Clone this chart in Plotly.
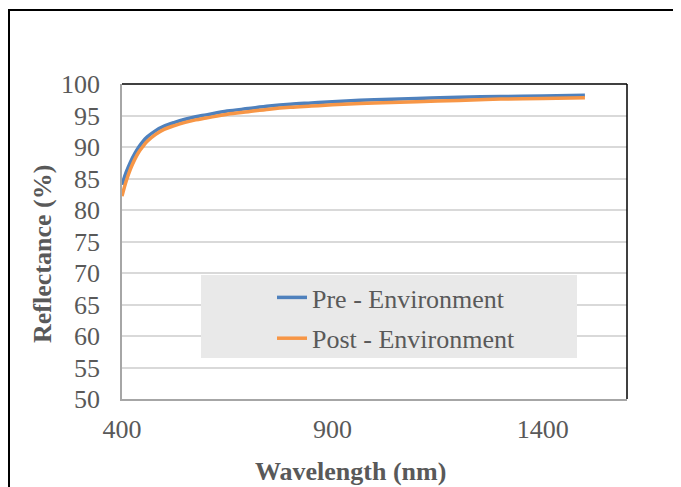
import plotly.graph_objects as go

wavelength = [400, 410, 420, 430, 440, 450, 460, 480, 500, 525, 550, 575, 600, 650, 700,
              750, 800, 850, 900, 1000, 1100, 1200, 1300, 1400, 1500]
pre_env = [84.0, 86.0, 87.6, 88.9, 90.0, 90.9, 91.6, 92.6, 93.3, 93.9, 94.4, 94.8, 95.1,
           95.7, 96.1, 96.5, 96.8, 97.0, 97.2, 97.5, 97.7, 97.9, 98.0, 98.1, 98.2]
post_env = [82.2, 84.6, 86.5, 88.0, 89.2, 90.1, 90.9, 92.0, 92.8, 93.4, 93.9, 94.3, 94.6,
            95.2, 95.6, 96.0, 96.3, 96.5, 96.7, 97.0, 97.2, 97.4, 97.6, 97.7, 97.8]
series_names = ["Pre - Environment", "Post - Environment"]
x_ticks = [400, 900, 1400]
y_ticks = list(range(50, 101, 5))

FONT = "Liberation Serif, Times New Roman, serif"
GRAY = "#595959"
FS = 26

OFF = 8  # page body margin
W, H = 681 - OFF, 487 - OFF
L = 122 - OFF
T = 84 - OFF
R = W - (627 - OFF)
B = H - (399 - OFF)
pw, ph = W - L - R, H - T - B

def px(x):
    return (x - OFF - L) / pw

def py(y):
    return (H - B - (y - OFF)) / ph

fig = go.Figure()
fig.add_trace(go.Scatter(x=wavelength, y=pre_env, mode="lines", name=series_names[0],
                         line=dict(color="#4F81BD", width=3.5, shape="spline"),
                         legendgroup="a"))
fig.add_trace(go.Scatter(x=wavelength, y=post_env, mode="lines", name=series_names[1],
                         line=dict(color="#F79646", width=3.5, shape="spline"),
                         legendgroup="b"))

shapes = [
    dict(type="rect", xref="paper", yref="paper", x0=px(9), x1=px(700), y0=py(520), y1=py(10),
         line=dict(color="black", width=2), fillcolor="rgba(0,0,0,0)", layer="above"),
    dict(type="line", xref="paper", yref="paper", x0=0, x1=1, y0=1, y1=1,
         line=dict(color="black", width=1.5), layer="above"),
    dict(type="line", xref="paper", yref="paper", x0=1, x1=1, y0=0, y1=1,
         line=dict(color="black", width=1.5), layer="above"),
    dict(type="rect", xref="paper", yref="paper", x0=px(201), x1=px(577), y0=py(358), y1=py(275),
         line=dict(width=0), fillcolor="#E9E9E9", layer="above"),
]

fig.update_layout(
    width=W, height=H,
    margin=dict(l=L, r=R, t=T, b=B),
    paper_bgcolor="white", plot_bgcolor="white",
    font=dict(family=FONT, color=GRAY, size=FS),
    showlegend=True,
    legend=dict(x=px(272), y=py(274), xanchor="left", yanchor="top",
                bgcolor="rgba(0,0,0,0)", font=dict(family=FONT, size=FS, color=GRAY),
                traceorder="grouped", tracegroupgap=4),
    shapes=shapes,
    annotations=[
        dict(text="<b>Reflectance (%)</b>", xref="paper", yref="paper", x=px(42), y=py(254),
             xanchor="center", yanchor="middle",
             showarrow=False, textangle=-90, font=dict(family=FONT, size=FS, color=GRAY)),
        dict(text="<b>Wavelength (nm)</b>", xref="paper", yref="paper", x=px(350), y=py(471),
             xanchor="center", yanchor="middle",
             showarrow=False, font=dict(family=FONT, size=FS, color=GRAY)),
    ],
)
fig.update_xaxes(range=[400, 1600], tickvals=x_ticks, showgrid=False, zeroline=False,
                 showline=True, linecolor="#A6A6A6", linewidth=1.5, ticks="",
                 ticklabelstandoff=6, tickfont=dict(family=FONT, size=FS, color=GRAY))
fig.update_yaxes(range=[50, 100], tickvals=y_ticks, showgrid=True, gridcolor="#D9D9D9",
                 gridwidth=1.5, zeroline=False, showline=True, linecolor="#A6A6A6",
                 linewidth=1.5, ticks="", ticklabelstandoff=15,
                 tickfont=dict(family=FONT, size=FS, color=GRAY))

fig.write_html("out.html")
